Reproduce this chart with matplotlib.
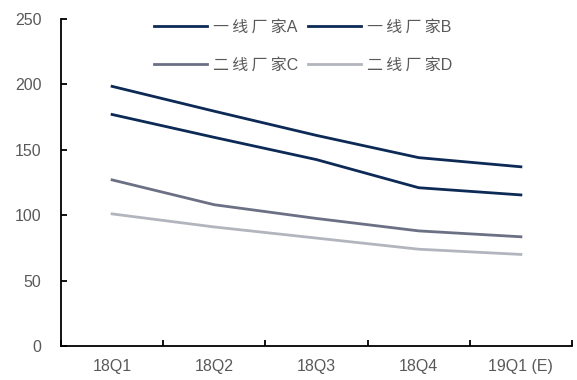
import matplotlib
matplotlib.use("Agg")
import matplotlib.pyplot as plt
import numpy as np

plt.rcParams['font.family'] = ['Liberation Sans', 'Noto Sans CJK SC', 'DejaVu Sans']

categories = ["18Q1", "18Q2", "18Q3", "18Q4", "19Q1 (E)"]
series_names = ["一\u2009线\u2009厂\u2009家A", "一\u2009线\u2009厂\u2009家B",
                "二\u2009线\u2009厂\u2009家C", "二\u2009线\u2009厂\u2009家D"]
vendor_a = [198.5, 179.5, 161, 144, 137]
vendor_b = [177, 159.5, 142.5, 121, 115.5]
vendor_c = [127, 108, 97.5, 88, 83.5]
vendor_d = [101, 91, 82.5, 74, 70]
y_ticks = [0, 50, 100, 150, 200, 250]

colors = ["#0c2a55", "#0c2a55", "#6c7084", "#b3b5be"]
text_grey = "#595959"

fig = plt.figure(figsize=(5.77, 3.80), dpi=100)
ax = fig.add_axes([61 / 577, 34 / 380, (572 - 61) / 577, (346 - 19) / 380])

x = np.arange(len(categories))
lines = []
for vals, name, col in zip([vendor_a, vendor_b, vendor_c, vendor_d], series_names, colors):
    ln, = ax.plot(x, vals, color=col, lw=2.0, label=name, solid_joinstyle='round')
    lines.append(ln)

ax.set_xlim(-0.5, len(categories) - 0.5)
ax.set_ylim(0, 250)
ax.set_yticks(y_ticks)
ax.set_xticks(x)
ax.set_xticklabels(categories)
ax.set_xticks(np.arange(len(categories) + 1) - 0.5, minor=True)

for s in ["top", "right"]:
    ax.spines[s].set_visible(False)
for s in ["left", "bottom"]:
    ax.spines[s].set_linewidth(1.3)
    ax.spines[s].set_color("black")

ax.tick_params(axis='x', which='major', length=0, pad=9, labelsize=11.5, labelcolor=text_grey)
ax.tick_params(axis='x', which='minor', direction='in', length=4, width=1.3)
ax.tick_params(axis='y', direction='in', length=4, width=1.3, pad=14, labelsize=11.5, labelcolor=text_grey)

# two columns filled row by row: A B / C D
order = [0, 2, 1, 3]
leg = fig.legend([lines[i] for i in order], [series_names[i] for i in order],
                 ncol=2, loc='upper left', bbox_to_anchor=(154 / 577, 1 - 20 / 380),
                 bbox_transform=fig.transFigure, frameon=False, borderpad=0, borderaxespad=0,
                 handlelength=3.3, handletextpad=0.4, columnspacing=0.6, labelspacing=1.42,
                 prop={'family': ['Liberation Sans', 'Noto Sans CJK SC'], 'size': 11.5})
for t in leg.get_texts():
    t.set_color(text_grey)

fig.savefig("out.png", dpi=100)
